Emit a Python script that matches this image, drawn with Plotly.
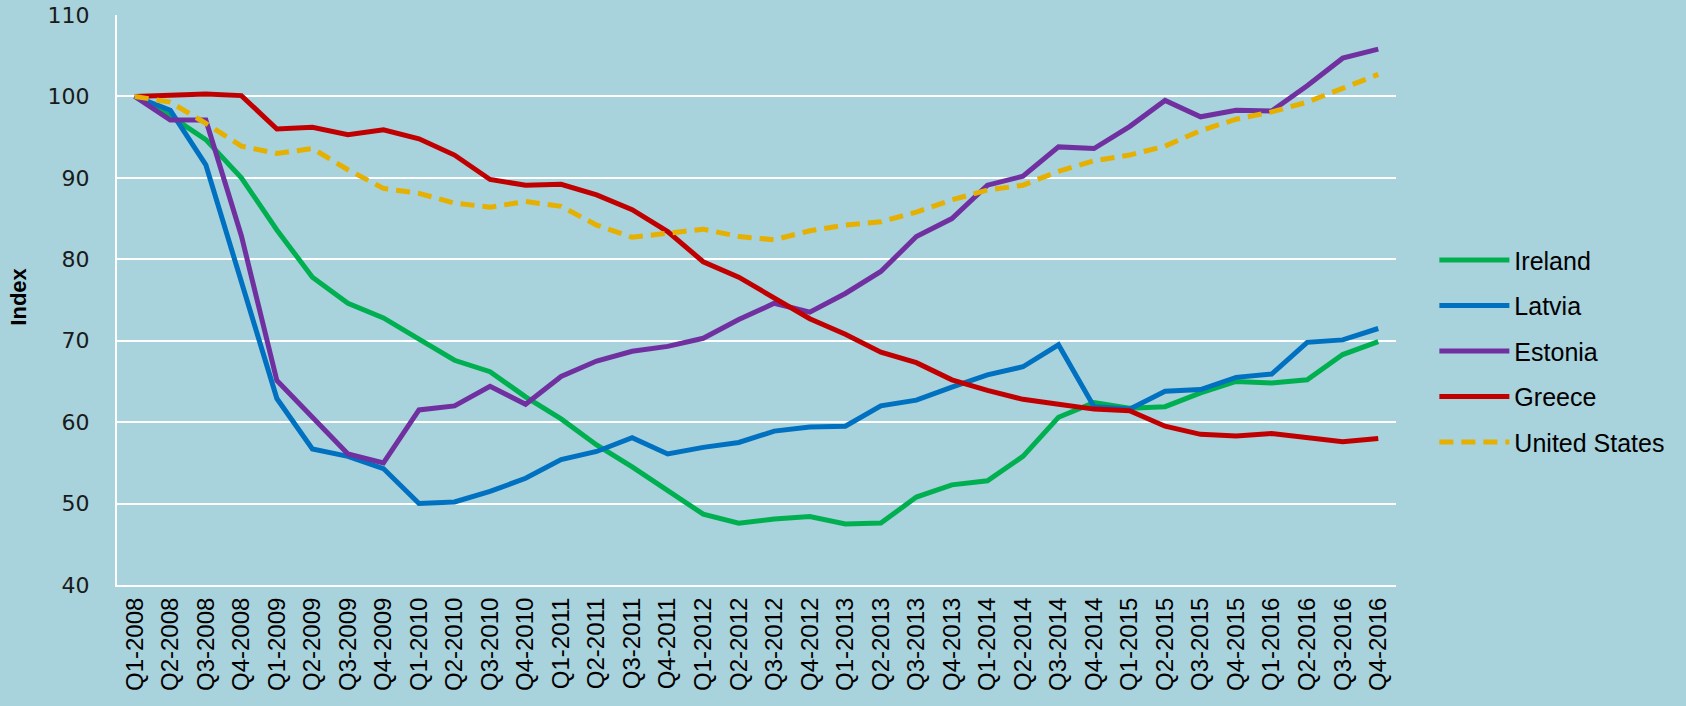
import plotly.graph_objects as go

# Quarter labels
quarters = [f"Q{q}-{y}" for y in range(2008, 2017) for q in range(1, 5)]

# Index values (Q1-2008 = 100)
ireland = [100.0, 97.6, 94.7, 90.0, 83.6, 77.8, 74.6, 72.8, 70.2, 67.6, 66.2, 63.1,
           60.4, 57.2, 54.5, 51.6, 48.7, 47.6, 48.1, 48.4, 47.5, 47.6, 50.8, 52.3,
           52.8, 55.8, 60.6, 62.4, 61.7, 61.9, 63.6, 65.0, 64.8, 65.2, 68.3, 69.9]
latvia = [100.0, 98.3, 91.6, 77.2, 62.9, 56.7, 55.8, 54.3, 50.0, 50.2, 51.5, 53.1,
          55.4, 56.4, 58.1, 56.1, 56.9, 57.5, 58.9, 59.4, 59.5, 62.0, 62.7, 64.3,
          65.8, 66.8, 69.5, 61.9, 61.6, 63.8, 64.0, 65.5, 65.9, 69.8, 70.1, 71.5]
estonia = [100.0, 97.1, 97.1, 82.9, 65.1, 60.6, 56.1, 55.0, 61.5, 62.0, 64.4, 62.2,
           65.6, 67.5, 68.7, 69.3, 70.3, 72.6, 74.6, 73.5, 75.8, 78.5, 82.8, 85.0,
           89.1, 90.2, 93.8, 93.6, 96.3, 99.5, 97.5, 98.3, 98.2, 101.3, 104.7, 105.8]
greece = [100.0, 100.2, 100.3, 100.1, 96.0, 96.2, 95.3, 95.9, 94.8, 92.8, 89.8, 89.1,
          89.2, 87.9, 86.1, 83.4, 79.7, 77.8, 75.3, 72.7, 70.8, 68.6, 67.3, 65.2,
          63.9, 62.8, 62.2, 61.6, 61.4, 59.5, 58.5, 58.3, 58.6, 58.1, 57.6, 58.0]
united_states = [100.0, 99.3, 96.7, 93.9, 93.0, 93.6, 91.0, 88.7, 88.1, 86.9, 86.4, 87.1,
                 86.5, 84.2, 82.7, 83.2, 83.7, 82.8, 82.4, 83.5, 84.2, 84.6, 85.8, 87.3,
                 88.5, 89.1, 90.8, 92.1, 92.8, 93.9, 95.8, 97.2, 98.1, 99.3, 101.0, 102.7]

series = [
    ("Ireland", ireland, "#00B050", "solid"),
    ("Latvia", latvia, "#0070C0", "solid"),
    ("Estonia", estonia, "#7030A0", "solid"),
    ("Greece", greece, "#C00000", "solid"),
    ("United States", united_states, "#E6B000", "14px,8px"),
]

BG = "#A8D2DC"

fig = go.Figure()
for name, vals, color, dash in series:
    fig.add_trace(go.Scatter(
        x=quarters, y=vals, name=name, mode="lines",
        legendgroup=name,
        line=dict(color=color, width=5, dash=dash),
    ))

fig.update_layout(
    width=1686, height=706,
    paper_bgcolor=BG, plot_bgcolor=BG,
    margin=dict(l=117, r=290, t=15, b=121),
    font=dict(family="Liberation Sans, Arial, sans-serif", color="black"),
    legend=dict(
        x=1.03, xanchor="left", y=0.41, yanchor="middle",
        font=dict(size=25, family="Liberation Sans, Arial, sans-serif"),
        tracegroupgap=10, itemwidth=70, bgcolor="rgba(0,0,0,0)",
    ),
    xaxis=dict(
        type="category", tickangle=-90, showgrid=False, automargin=False,
        range=[-0.5, len(quarters) - 0.5],
        tickfont=dict(size=24, family="Liberation Sans, Arial, sans-serif"),
        ticklabelstandoff=1,
        showline=True, linecolor="white", linewidth=2,
    ),
    yaxis=dict(
        range=[40, 110], dtick=10, showgrid=True, gridcolor="white", gridwidth=2,
        showline=True, linecolor="white", linewidth=2, mirror=False,
        zeroline=False, automargin=False,
        tickfont=dict(size=22, family="DejaVu Sans, sans-serif", color="#1a1a1a"),
        ticklabelstandoff=21,
    ),
    annotations=[dict(
        text="<b>Index</b>", xref="paper", yref="paper", x=-0.077, y=0.505,
        xanchor="center", yanchor="middle", textangle=-90, showarrow=False,
        font=dict(size=22, family="Liberation Sans, Arial, sans-serif", color="black"),
    )],
)

fig.write_html("out.html", config={"displayModeBar": False},
               post_script="document.body.style.margin='0';")
